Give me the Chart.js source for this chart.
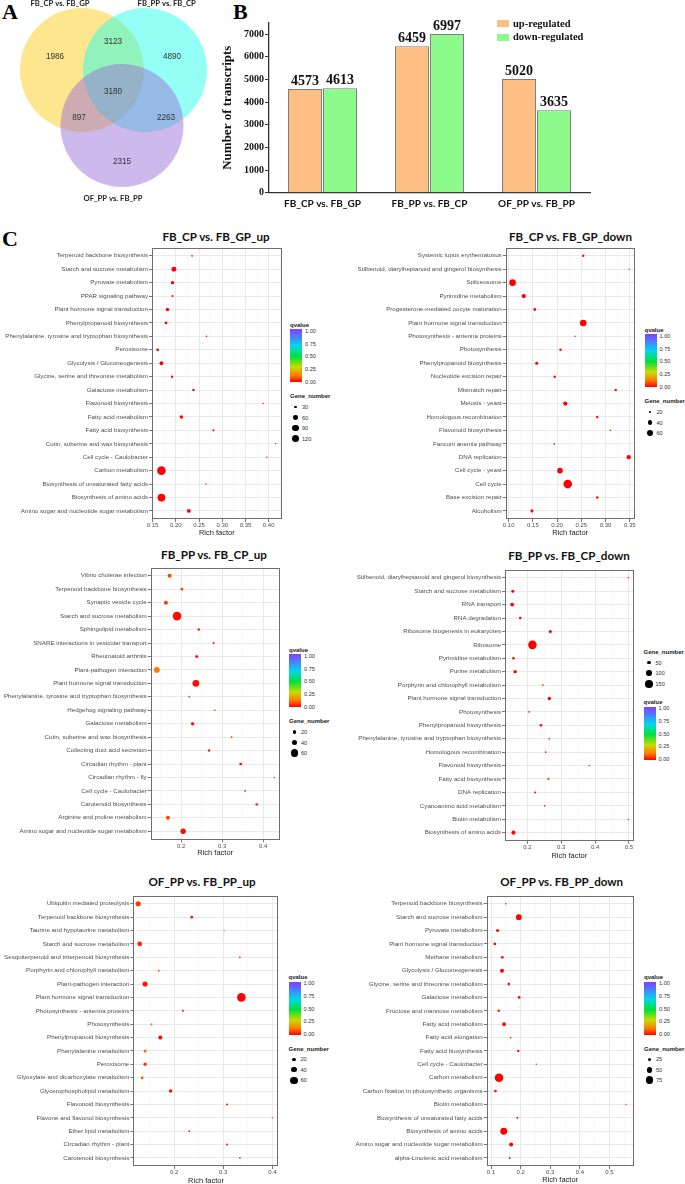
<!DOCTYPE html>
<html>
<head>
<meta charset="utf-8">
<script src="https://cdn.jsdelivr.net/npm/chart.js@4/dist/chart.umd.min.js"></script>
<style>
  html, body { margin: 0; padding: 0; background: #fff; }
  body { position: relative; width: 685px; height: 1184px; overflow: hidden; }
  canvas { position: absolute; }
  .t { position: absolute; line-height: 0; white-space: nowrap; }
</style>
</head>
<body>
<script>
// ---------------- DATA ----------------
// Panel A (Venn)
const vennSetNames = ['FB_CP vs. FB_GP', 'FB_PP vs. FB_CP', 'OF_PP vs. FB_PP'];
// regions: A only, A∩B, B only, A∩B∩C, A∩C, B∩C, C only
const vennRegionCounts = [1986, 3123, 4890, 3180, 897, 2263, 2315];

// Panel B (bars)
const barCategories = ['FB_CP vs. FB_GP', 'FB_PP vs. FB_CP', 'OF_PP vs. FB_PP'];
const upRegulated = [4573, 6459, 5020];
const downRegulated = [4613, 6997, 3635];
const barSeriesNames = ['up-regulated', 'down-regulated'];

// Panel C (KEGG bubble plots), listed top to bottom
const p1Title = 'FB_CP vs. FB_GP_up';
const p1Pathways = ['Terpenoid backbone biosynthesis','Starch and sucrose metabolism','Pyruvate metabolism','PPAR signaling pathway','Plant hormone signal transduction','Phenylpropanoid biosynthesis','Phenylalanine, tyrosine and tryptophan biosynthesis','Peroxisome','Glycolysis / Gluconeogenesis','Glycine, serine and threonine metabolism','Galactose metabolism','Flavonoid biosynthesis','Fatty acid metabolism','Fatty acid biosynthesis','Cutin, suberine and wax biosynthesis','Cell cycle - Caulobacter','Carbon metabolism','Biosynthesis of unsaturated fatty acids','Biosynthesis of amino acids','Amino sugar and nucleotide sugar metabolism'];
const p1Rich = [0.235,0.196,0.193,0.193,0.182,0.179,0.266,0.161,0.169,0.192,0.238,0.388,0.212,0.281,0.415,0.396,0.169,0.265,0.169,0.228];
const p1Genes = [15,70,45,21,45,33,12,33,52,28,28,10,45,21,9,9,135,12,120,52];
const p1Q = [0.01,0,0,0.01,0,0,0.02,0,0,0.01,0,0.03,0,0.01,0.03,0.03,0,0.02,0,0];
const p1SizeBreaks = [30,60,90,120];

const p2Title = 'FB_CP vs. FB_GP_down';
const p2Pathways = ['Systemic lupus erythematosus','Stilbenoid, diarylheptanoid and gingerol biosynthesis','Spliceosome','Pyrimidine metabolism','Progesterone-mediated oocyte maturation','Plant hormone signal transduction','Photosynthesis - antenna proteins','Photosynthesis','Phenylpropanoid biosynthesis','Nucleotide excision repair','Mismatch repair','Meiosis - yeast','Homologous recombination','Flavonoid biosynthesis','Fanconi anemia pathway','DNA replication','Cell cycle - yeast','Cell cycle','Base excision repair','Alcoholism'];
const p2Rich = [0.254,0.349,0.108,0.131,0.154,0.254,0.237,0.207,0.158,0.195,0.321,0.217,0.283,0.310,0.194,0.348,0.206,0.222,0.283,0.148];
const p2Genes = [17,4,66,38,21,66,5,17,25,17,17,38,17,6,9,38,54,90,17,25];
const p2Q = [0.01,0.03,0,0,0.01,0,0.02,0.01,0,0.01,0.01,0,0.01,0.03,0.02,0,0,0,0.01,0.01];
const p2SizeBreaks = [20,40,60];

const p3Title = 'FB_PP vs. FB_CP_up';
const p3Pathways = ['Vibrio cholerae infection','Terpenoid backbone biosynthesis','Synaptic vesicle cycle','Starch and sucrose metabolism','Sphingolipid metabolism','SNARE interactions in vesicular transport','Rheumatoid arthritis','Plant-pathogen interaction','Plant hormone signal transduction','Phenylalanine, tyrosine and tryptophan biosynthesis','Hedgehog signaling pathway','Galactose metabolism','Cutin, suberine and wax biosynthesis','Collecting duct acid secretion','Circadian rhythm - plant','Circadian rhythm - fly','Cell cycle - Caulobacter','Carotenoid biosynthesis','Arginine and proline metabolism','Amino sugar and nucleotide sugar metabolism'];
const p3Rich = [0.172,0.202,0.163,0.190,0.243,0.279,0.238,0.141,0.236,0.220,0.282,0.228,0.323,0.268,0.345,0.427,0.356,0.384,0.168,0.205];
const p3Genes = [30,17,30,75,14,10,20,47,57,10,7,24,7,14,17,4,7,14,30,44];
const p3Q = [0.07,0.06,0.06,0.01,0.02,0.02,0.02,0.12,0.01,0.09,0.07,0.02,0.04,0.03,0.01,0.05,0.03,0.02,0.07,0.01];
const p3SizeBreaks = [20,40,60];

const p4Title = 'FB_PP vs. FB_CP_down';
const p4Pathways = ['Stilbenoid, diarylheptanoid and gingerol biosynthesis','Starch and sucrose metabolism','RNA transport','RNA degradation','Ribosome biogenesis in eukaryotes','Ribosome','Pyrimidine metabolism','Purine metabolism','Porphyrin and chlorophyll metabolism','Plant hormone signal transduction','Photosynthesis','Phenylpropanoid biosynthesis','Phenylalanine, tyrosine and tryptophan biosynthesis','Homologous recombination','Flavonoid biosynthesis','Fatty acid biosynthesis','DNA replication','Cyanoamino acid metabolism','Biotin metabolism','Biosynthesis of amino acids'];
const p4Rich = [0.498,0.157,0.155,0.179,0.268,0.215,0.159,0.164,0.246,0.265,0.205,0.240,0.265,0.254,0.383,0.262,0.223,0.251,0.498,0.159];
const p4Genes = [5,42,58,34,42,170,34,50,10,50,10,34,10,10,7,18,18,10,4,66];
const p4Q = [0.02,0,0,0.01,0,0,0.01,0,0.02,0,0.02,0.01,0.02,0.02,0.03,0.02,0.01,0.02,0.03,0];
const p4SizeBreaks = [50,100,150];

const p5Title = 'OF_PP vs. FB_PP_up';
const p5Pathways = ['Ubiquitin mediated proteolysis','Terpenoid backbone biosynthesis','Taurine and hypotaurine metabolism','Starch and sucrose metabolism','Sesquiterpenoid and triterpenoid biosynthesis','Porphyrin and chlorophyll metabolism','Plant-pathogen interaction','Plant hormone signal transduction','Photosynthesis - antenna proteins','Photosynthesis','Phenylpropanoid biosynthesis','Phenylalanine metabolism','Peroxisome','Glyoxylate and dicarboxylate metabolism','Glycerophospholipid metabolism','Flavonoid biosynthesis','Flavone and flavonol biosynthesis','Ether lipid metabolism','Circadian rhythm - plant','Carotenoid biosynthesis'];
const p5Rich = [0.127,0.236,0.302,0.130,0.334,0.169,0.141,0.337,0.218,0.154,0.172,0.141,0.141,0.135,0.193,0.308,0.400,0.231,0.308,0.334];
const p5Genes = [40,16,3,37,6,9,40,75,9,9,30,19,23,19,23,9,3,6,9,6];
const p5Q = [0.05,0.01,0.12,0.04,0.01,0.10,0.02,0,0.02,0.10,0.01,0.10,0.05,0.11,0.01,0.02,0.03,0.02,0.02,0.02];
const p5SizeBreaks = [20,40,60];

const p6Title = 'OF_PP vs. FB_PP_down';
const p6Pathways = ['Terpenoid backbone biosynthesis','Starch and sucrose metabolism','Pyruvate metabolism','Plant hormone signal transduction','Methane metabolism','Glycolysis / Gluconeogenesis','Glycine, serine and threonine metabolism','Galactose metabolism','Fructose and mannose metabolism','Fatty acid metabolism','Fatty acid elongation','Fatty acid biosynthesis','Cell cycle - Caulobacter','Carbon metabolism','Carbon fixation in photosynthetic organisms','Biotin metabolism','Biosynthesis of unsaturated fatty acids','Biosynthesis of amino acids','Amino sugar and nucleotide sugar metabolism','alpha-Linolenic acid metabolism'];
const p6Rich = [0.150,0.194,0.122,0.113,0.138,0.137,0.160,0.195,0.126,0.144,0.166,0.192,0.253,0.127,0.115,0.556,0.189,0.143,0.168,0.163];
const p6Genes = [6,53,22,18,18,33,18,18,14,29,6,14,3,85,18,3,10,65,33,10];
const p6Q = [0.02,0,0.01,0.01,0.01,0,0.01,0.01,0.01,0,0.02,0.01,0.03,0,0.01,0.03,0.02,0,0,0.02];
const p6SizeBreaks = [25,50,75];

const qTicks = [1.00, 0.75, 0.50, 0.25, 0.00];

// ---------------- STYLE / LAYOUT ----------------
const SANS = "'Liberation Sans', Arial, sans-serif";
const SERIF = "'Liberation Serif', 'Times New Roman', serif";
const TITLEF = "Lato, 'Liberation Sans', sans-serif";
const R_MIN = 0.7, R_MAX = 4.3;
const Q_STOPS = [[0,[255,0,0]],[0.12,[255,120,0]],[0.28,[200,220,0]],[0.48,[0,225,60]],[0.68,[0,215,235]],[0.85,[70,130,255]],[1,[135,60,255]]];

function qColor(q) {
  for (let i = 1; i < Q_STOPS.length; i++) {
    if (q <= Q_STOPS[i][0]) {
      const [t0, c0] = Q_STOPS[i - 1], [t1, c1] = Q_STOPS[i];
      const f = (q - t0) / (t1 - t0);
      return 'rgb(' + c0.map((v, k) => Math.round(v + (c1[k] - v) * f)).join(',') + ')';
    }
  }
  return 'rgb(135,60,255)';
}

function makeCanvas(r) {
  const c = document.createElement('canvas');
  c.width = r.w; c.height = r.h;
  c.style.left = r.x + 'px'; c.style.top = r.y + 'px';
  c.style.width = r.w + 'px'; c.style.height = r.h + 'px';
  document.body.appendChild(c);
  return c;
}

function addText(text, x, y, o) {
  const d = document.createElement('div');
  d.className = 't';
  d.textContent = text;
  d.style.left = x + 'px';
  d.style.top = y + 'px';
  d.style.fontFamily = o.family || SANS;
  d.style.fontSize = o.size + 'px';
  d.style.fontWeight = o.weight || 'normal';
  d.style.color = o.color || '#222';
  if (o.align === 'center') d.style.transform = 'translateX(-50%)';
  else if (o.align === 'right') d.style.transform = 'translateX(-100%)';
  document.body.appendChild(d);
  return d;
}

function addBox(x, y, w, h, css) {
  const d = document.createElement('div');
  d.style.cssText = `position:absolute;left:${x}px;top:${y}px;width:${w}px;height:${h}px;` + css;
  document.body.appendChild(d);
  return d;
}

// Panel letters
addText('A', 2, 12, {family: SERIF, size: 22, weight: 'bold', color: '#000'});
addText('B', 233, 12, {family: SERIF, size: 22, weight: 'bold', color: '#000'});
addText('C', 2, 238.5, {family: SERIF, size: 22, weight: 'bold', color: '#000'});

// ---------------- PANEL A: VENN ----------------
// canvas is 230 x 206 px and the hidden axes span 0..230 / 0..206, so one unit = one pixel
const VENN = {
  canvas: {x: 0, y: 0, w: 230, h: 206},
  circles: [{cx: 82, cy: 70, r: 62}, {cx: 145, cy: 70, r: 62}, {cx: 122, cy: 125.5, r: 61.5}],
  fills: ['rgba(252,206,30,0.5)', 'rgba(40,255,235,0.5)', 'rgba(155,115,215,0.5)'],
  countPos: [[55,57],[113,42],[172,57],[113,92],[79,118],[166,118],[122,162]],
  namePos: [[60,3.5],[166.7,3.5],[113,199]]
};
const vennText = {
  id: 'vennText',
  afterDatasetsDraw(chart) {
    const {ctx, scales: {x, y}} = chart;
    ctx.save();
    ctx.textAlign = 'center';
    ctx.textBaseline = 'middle';
    ctx.fillStyle = '#333';
    ctx.font = `8.2px ${SANS}`;
    vennRegionCounts.forEach((n, i) => {
      const [px, py] = VENN.countPos[i];
      ctx.fillText(String(n), x.getPixelForValue(px), y.getPixelForValue(py));
    });
    ctx.fillStyle = '#222';
    ctx.font = `bold 7.7px ${TITLEF}`;
    vennSetNames.forEach((s, i) => {
      const [px, py] = VENN.namePos[i];
      ctx.fillText(s, x.getPixelForValue(px), y.getPixelForValue(py));
    });
    ctx.restore();
  }
};
new Chart(makeCanvas(VENN.canvas), {
  type: 'bubble',
  data: {
    datasets: vennSetNames.map((name, i) => ({
      label: name,
      order: vennSetNames.length - i,   // first set painted first, last set on top
      data: [{x: VENN.circles[i].cx, y: VENN.circles[i].cy, r: VENN.circles[i].r}],
      backgroundColor: VENN.fills[i],
      borderWidth: 0,
      hoverRadius: 0,
      clip: false
    }))
  },
  options: {
    responsive: false, animation: false, events: [], devicePixelRatio: 1,
    layout: {padding: 0, autoPadding: false},
    plugins: {legend: {display: false}, tooltip: {enabled: false}},
    scales: {
      x: {type: 'linear', min: 0, max: VENN.canvas.w, display: false},
      y: {type: 'linear', min: 0, max: VENN.canvas.h, reverse: true, display: false}
    }
  },
  plugins: [vennText]
});

// ---------------- PANEL B: BARS ----------------
const BAR = {canvas: {x: 220, y: 0, w: 465, h: 215}, area: {l: 269, t: 22.7, r: 590, b: 192.7}};
const barColors = ['#FDBF84', '#8DFB8C'];
const barValueLabels = {
  id: 'barValueLabels',
  afterDatasetsDraw(chart) {
    const {ctx} = chart;
    ctx.save();
    ctx.font = `bold 14px ${SERIF}`;
    ctx.fillStyle = '#111';
    ctx.textAlign = 'center';
    ctx.textBaseline = 'alphabetic';
    chart.data.datasets.forEach((ds, i) => {
      chart.getDatasetMeta(i).data.forEach((bar, j) => {
        ctx.fillText(String(ds.data[j]), bar.x, bar.y - 4);
      });
    });
    ctx.restore();
  }
};
new Chart(makeCanvas(BAR.canvas), {
  type: 'bar',
  data: {
    labels: barCategories,
    datasets: [
      {label: barSeriesNames[0], data: upRegulated, backgroundColor: barColors[0], borderColor: '#7d7d7d', borderWidth: 1},
      {label: barSeriesNames[1], data: downRegulated, backgroundColor: barColors[1], borderColor: '#7d7d7d', borderWidth: 1}
    ]
  },
  options: {
    responsive: false, animation: false, events: [], devicePixelRatio: 1,
    categoryPercentage: 0.655, barPercentage: 0.97,
    layout: {padding: {left: 0, bottom: 0, top: BAR.area.t - BAR.canvas.y, right: BAR.canvas.x + BAR.canvas.w - BAR.area.r}},
    plugins: {legend: {display: false}, tooltip: {enabled: false}},
    scales: {
      x: {
        afterFit: s => { s.height = BAR.canvas.y + BAR.canvas.h - BAR.area.b; },
        grid: {display: false, drawTicks: false},
        border: {display: true, color: '#333', width: 1.3},
        ticks: {color: '#111', padding: 5.3, font: {family: TITLEF, size: 10, weight: 'bold'}}
      },
      y: {
        min: 0, max: 7500,
        afterFit: s => { s.width = BAR.area.l - BAR.canvas.x; },
        grid: {drawOnChartArea: false, color: '#333', tickLength: 4, tickWidth: 1},
        border: {display: true, color: '#333', width: 1.3},
        ticks: {stepSize: 500, padding: 1, color: '#111', font: {family: SERIF, size: 10, weight: 'bold'},
                callback: v => (v % 1000 === 0 ? String(v) : '')},
        title: {display: true, text: 'Number of transcripts', color: '#111', padding: 0,
                font: {family: SERIF, size: 13, weight: 'bold', lineHeight: 1.2}}
      }
    }
  },
  plugins: [barValueLabels]
});
// bar legend
barSeriesNames.forEach((name, i) => {
  const y = 20 + i * 13.5;
  addBox(497, y, 12, 7, `background:${barColors[i]};`);
  addText(name, 513, y + 3.5, {family: SERIF, size: 10.5, weight: 'bold', color: '#111'});
});

// ---------------- PANEL C: BUBBLES ----------------
const panelBorder = {
  id: 'panelBorder',
  afterDatasetsDraw(chart) {
    const {ctx, chartArea: a} = chart;
    ctx.save();
    ctx.strokeStyle = '#6e6e6e';
    ctx.lineWidth = 1;
    ctx.strokeRect(Math.round(a.left) + 0.5, Math.round(a.top) + 0.5, Math.round(a.right - a.left) - 1, Math.round(a.bottom - a.top) - 1);
    ctx.restore();
  }
};

function bubbleLegend(L, sizes, rOf) {
  let y = L.y;
  const parts = L.order === 'qg' ? ['q', 'g'] : ['g', 'q'];
  const titleStyle = {family: SANS, size: 6, weight: 'bold', color: '#222'};
  const labStyle = {family: SANS, size: 5.6, color: '#333'};
  parts.forEach(part => {
    if (part === 'q') {
      addText('qvalue', L.x, y + 4, titleStyle);
      const top = y + 8.3, h = 53;
      const grad = Q_STOPS.map(s => `rgb(${s[1].join(',')}) ${s[0] * 100}%`).join(',');
      addBox(L.x, top, 12, h, `background:linear-gradient(to top, ${grad});`);
      qTicks.forEach(t => addText(t.toFixed(2), L.x + 15, top + 1.7 + (1 - t) * 50.7, labStyle));
      y += 8.3 + h + 10;
    } else {
      addText('Gene_number', L.x, y + 4, titleStyle);
      sizes.forEach((n, i) => {
        const cy = y + 14.7 + i * 10.5, r = rOf(n);
        addBox(L.x + 5.5 - r, cy - r, 2 * r, 2 * r, 'background:#000;border-radius:50%;');
        addText(String(n), L.x + 12, cy, labStyle);
      });
      y += 14.7 + sizes.length * 10.5 + 4.1;
    }
  });
}

function bubblePanel(p) {
  const c = p.canvas, a = p.area;
  const lo = Math.min(...p.genes), hi = Math.max(...p.genes);
  const rOf = n => R_MIN + (R_MAX - R_MIN) * (n - lo) / (hi - lo);
  const isMajor = v => Math.abs(v / p.xMajor - Math.round(v / p.xMajor)) < 1e-6;
  new Chart(makeCanvas(c), {
    type: 'bubble',
    data: {
      datasets: [{
        label: p.title,
        data: p.rich.map((x, i) => ({x: x, y: i})),
        radius: ctx => rOf(p.genes[ctx.dataIndex]),
        backgroundColor: ctx => qColor(p.q[ctx.dataIndex]),
        borderWidth: 0, hoverRadius: 0, hoverBorderWidth: 0
      }]
    },
    options: {
      responsive: false, animation: false, events: [], devicePixelRatio: 1,
      layout: {padding: {left: 0, bottom: 0, top: a.t - c.y, right: c.x + c.w - a.r}},
      plugins: {legend: {display: false}, tooltip: {enabled: false}},
      scales: {
        x: {
          type: 'linear', position: 'bottom', min: p.xMin, max: p.xMax,
          afterFit: s => { s.height = c.y + c.h - a.b; },
          border: {display: false},
          grid: {
            color: ctx => isMajor(ctx.tick.value) ? '#E6E6E6' : '#F3F3F3',
            lineWidth: ctx => isMajor(ctx.tick.value) ? 0.9 : 0.6,
            tickColor: ctx => isMajor(ctx.tick.value) ? '#555' : 'rgba(0,0,0,0)',
            tickLength: 3, tickWidth: 0.8
          },
          ticks: {
            stepSize: p.xMajor / 2, autoSkip: false, maxRotation: 0, minRotation: 0, includeBounds: false,
            padding: 0, color: '#4D4D4D', font: {family: SANS, size: 6},
            callback: v => isMajor(v) ? v.toFixed(p.xDec) : ''
          },
          title: {display: true, text: 'Rich factor', color: '#222', padding: 0, font: {family: SANS, size: 7.5, lineHeight: 1}}
        },
        y: {
          type: 'linear', position: 'left', reverse: true, min: -0.6, max: p.cats.length - 0.4,
          afterFit: s => { s.width = a.l - c.x; },
          border: {display: false},
          grid: {color: '#E6E6E6', lineWidth: 0.9, tickColor: '#555', tickLength: 3, tickWidth: 0.8},
          ticks: {
            stepSize: 1, autoSkip: false, includeBounds: false, padding: 1,
            color: '#4D4D4D', font: {family: SANS, size: 6.2},
            callback: v => (p.cats[v] !== undefined ? p.cats[v] : '')
          }
        }
      }
    },
    plugins: [panelBorder]
  });
  addText(p.title, p.titlePos[0], p.titlePos[1], {family: TITLEF, size: 11.6, weight: 'bold', color: '#111', align: 'center'});
  bubbleLegend(p.legend, p.sizes, rOf);
}

bubblePanel({title: p1Title, cats: p1Pathways, rich: p1Rich, genes: p1Genes, q: p1Q, sizes: p1SizeBreaks,
  canvas: {x: 0, y: 243, w: 286, h: 294}, area: {l: 152, t: 247, r: 282, b: 519},
  xMin: 0.1487, xMax: 0.428, xMajor: 0.05, xDec: 2, titlePos: [216, 236.7],
  legend: {x: 290, y: 321, order: 'qg'}});

bubblePanel({title: p2Title, cats: p2Pathways, rich: p2Rich, genes: p2Genes, q: p2Q, sizes: p2SizeBreaks,
  canvas: {x: 345, y: 243, w: 294, h: 294}, area: {l: 505.7, t: 247, r: 635, b: 519},
  xMin: 0.0938, xMax: 0.3603, xMajor: 0.05, xDec: 2, titlePos: [570.5, 236.7],
  legend: {x: 644.5, y: 326, order: 'qg'}});

bubblePanel({title: p3Title, cats: p3Pathways, rich: p3Rich, genes: p3Genes, q: p3Q, sizes: p3SizeBreaks,
  canvas: {x: 0, y: 563, w: 284, h: 294}, area: {l: 150.7, t: 567.3, r: 280, b: 839.3},
  xMin: 0.126, xMax: 0.440, xMajor: 0.1, xDec: 1, titlePos: [214, 555],
  legend: {x: 289, y: 646, order: 'qg'}});

bubblePanel({title: p4Title, cats: p4Pathways, rich: p4Rich, genes: p4Genes, q: p4Q, sizes: p4SizeBreaks,
  canvas: {x: 345, y: 565, w: 293, h: 295}, area: {l: 505, t: 569, r: 634, b: 840.7},
  xMin: 0.134, xMax: 0.514, xMajor: 0.1, xDec: 1, titlePos: [569, 556],
  legend: {x: 643.5, y: 648, order: 'gq'}});

bubblePanel({title: p5Title, cats: p5Pathways, rich: p5Rich, genes: p5Genes, q: p5Q, sizes: p5SizeBreaks,
  canvas: {x: 0, y: 891, w: 283, h: 294}, area: {l: 133.3, t: 895, r: 279, b: 1166},
  xMin: 0.117, xMax: 0.413, xMajor: 0.1, xDec: 1, titlePos: [202, 882.3],
  legend: {x: 288.5, y: 973.3, order: 'qg'}});

bubblePanel({title: p6Title, cats: p6Pathways, rich: p6Rich, genes: p6Genes, q: p6Q, sizes: p6SizeBreaks,
  canvas: {x: 345, y: 891, w: 293, h: 293}, area: {l: 486.7, t: 895, r: 634.3, b: 1166},
  xMin: 0.0854, xMax: 0.582, xMajor: 0.1, xDec: 1, titlePos: [561.7, 882.3],
  legend: {x: 644, y: 973.3, order: 'qg'}});
</script>
</body>
</html>
